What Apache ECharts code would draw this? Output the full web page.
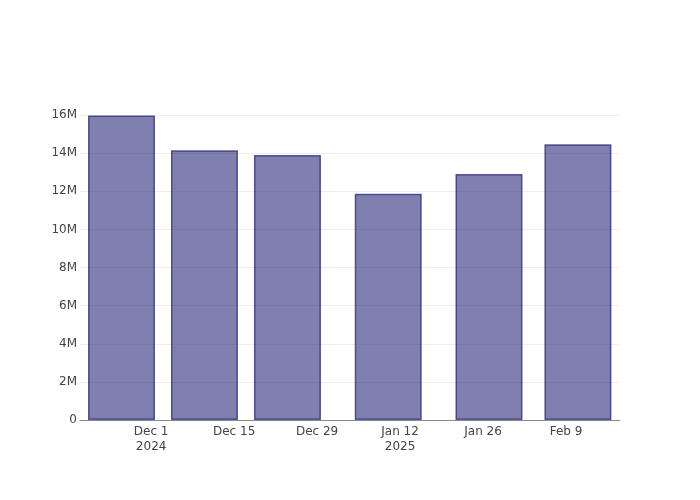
<!DOCTYPE html>
<html>
<head>
<meta charset="utf-8">
<script src="https://cdn.jsdelivr.net/npm/echarts@6/dist/echarts.min.js"></script>
<style>html,body{margin:0;padding:0;background:#fff}#c{width:700px;height:500px}</style>
</head>
<body>
<div id="c"></div>
<script>
const dates = ['2024-11-26','2024-12-10','2024-12-24','2025-01-10','2025-01-27','2025-02-11'];
const values = [15.98e6, 14.15e6, 13.9e6, 11.87e6, 12.9e6, 14.47e6];
const tickDates = ['2024-12-01','2024-12-15','2024-12-29','2025-01-12','2025-01-26','2025-02-09'];
const tickLabels = ['Dec 1\n2024','Dec 15','Dec 29','Jan 12\n2025','Jan 26','Feb 9'];

const origin = Date.UTC(2024, 11, 1);
function dayOff(s){ const p = s.split('-').map(Number); return (Date.UTC(p[0], p[1]-1, p[2]) - origin) / 86400000; }
const tickVals = tickDates.map(dayOff);
const data = dates.map((d,i)=>[dayOff(d), values[i]]);

const chart = echarts.init(document.getElementById('c'));
const font = '"DejaVu Sans", Verdana, Arial, sans-serif';
chart.setOption({
  animation: false,
  grid: {left: 80, right: 80, top: 115, bottom: 80},
  xAxis: {
    type: 'value', min: -12, max: 79.1,
    axisLine: {show: true, onZero: false, lineStyle: {color: '#8a8a8a', width: 1}},
    axisTick: {show: false},
    splitLine: {show: false},
    axisLabel: {
      customValues: tickVals,
      color: '#444', fontFamily: font, fontSize: 12, margin: 4, lineHeight: 15,
      formatter: function(v){ const i = tickVals.findIndex(t => Math.abs(t - v) < 1e-6); return i >= 0 ? tickLabels[i] : ''; }
    }
  },
  yAxis: {
    type: 'value', min: 0, max: 16e6, interval: 2e6,
    axisLine: {show: false}, axisTick: {show: false},
    splitLine: {lineStyle: {color: '#eeeeee', width: 1}},
    axisLabel: {color: '#444', fontFamily: font, fontSize: 12, margin: 3,
      formatter: v => v === 0 ? '0' : (v/1e6) + 'M'}
  },
  series: [{
    type: 'bar', data: data, barWidth: 67,
    itemStyle: {color: 'rgba(42,42,123,0.6)', borderColor: 'rgba(40,40,120,0.75)', borderWidth: 1.5}
  }]
});
</script>
</body>
</html>
